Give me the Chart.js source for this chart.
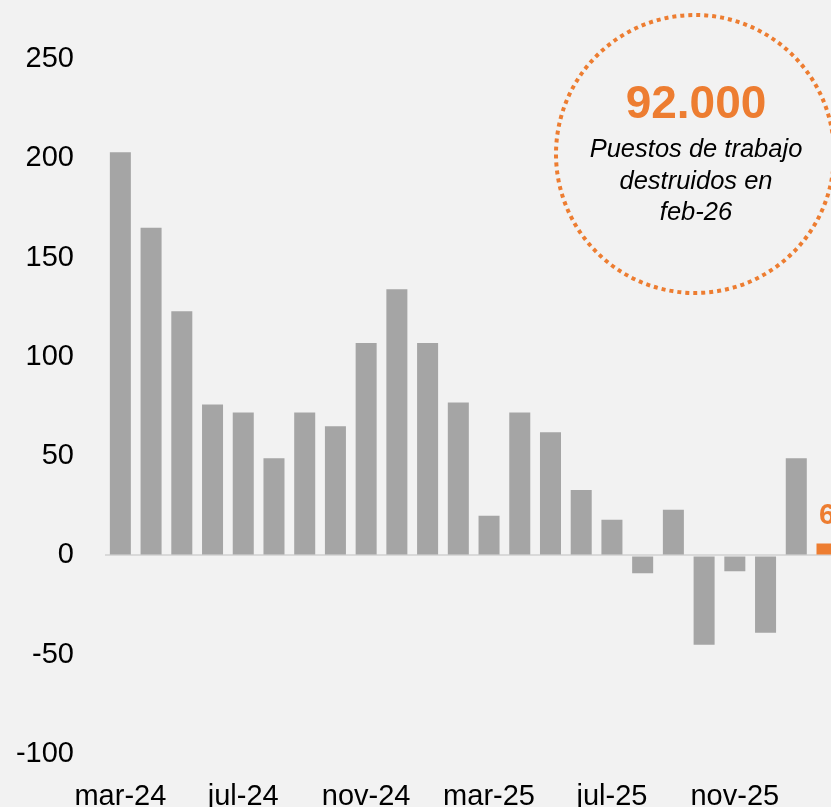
<!DOCTYPE html>
<html>
<head>
<meta charset="utf-8">
<script src="https://cdn.jsdelivr.net/npm/chart.js@4.4.1/dist/chart.umd.min.js"></script>
<style>
  html, body { margin: 0; padding: 0; background: #f2f2f2; overflow: hidden; width: 831px; height: 807px; }
  #wrap { position: absolute; left: 0; top: 0; width: 853px; height: 807px; }
  canvas { display: block; }
</style>
</head>
<body>
<div id="wrap"><canvas id="c"></canvas></div>
<script>
// ---- data ----
const categories = ["mar-24","abr-24","may-24","jun-24","jul-24","ago-24","sep-24","oct-24","nov-24","dic-24",
  "ene-25","feb-25","mar-25","abr-25","may-25","jun-25","jul-25","ago-25","sep-25","oct-25","nov-25","dic-25",
  "ene-26","feb-26"];
const values = [203, 165, 123, 76, 72, 49, 72, 65, 107, 134, 107, 77, 20, 72, 62, 33, 18, -9, 23, -45, -8, -39, 49, 6];
const shownTickLabels = ["mar-24","jul-24","nov-24","mar-25","jul-25","nov-25"];
const highlightCategory = "feb-26";
const highlightLabel = "6";
const calloutNumber = "92.000";
const calloutLines = ["Puestos de trabajo", "destruidos en", "feb-26"];

const GREY = '#a5a5a5';
const ORANGE = '#ED7D31';
const FONT = "'Liberation Sans', Arial, sans-serif";

const overlay = {
  id: 'overlay',
  afterDatasetsDraw(chart) {
    const ctx = chart.ctx;
    const idx = categories.indexOf(highlightCategory);
    const bar = chart.getDatasetMeta(0).data[idx];
    ctx.save();
    ctx.fillStyle = ORANGE;
    ctx.font = "bold 29px " + FONT;
    ctx.textAlign = 'center';
    ctx.textBaseline = 'alphabetic';
    ctx.fillText(highlightLabel, bar.x, bar.y - 20);
    ctx.restore();
  },
  afterDraw(chart) {
    const ctx = chart.ctx;
    ctx.save();
    ctx.beginPath();
    ctx.setLineDash([4, 4]);
    ctx.lineWidth = 4;
    ctx.strokeStyle = ORANGE;
    ctx.arc(695, 154, 139, 0, Math.PI * 2);
    ctx.stroke();
    ctx.setLineDash([]);
    ctx.textAlign = 'center';
    ctx.textBaseline = 'alphabetic';
    ctx.fillStyle = ORANGE;
    ctx.font = "bold 46px " + FONT;
    ctx.fillText(calloutNumber, 696, 118);
    ctx.fillStyle = '#000';
    ctx.font = "italic 25.5px " + FONT;
    const base = [157, 189, 220];
    calloutLines.forEach((t, i) => ctx.fillText(t, 696, base[i]));
    ctx.restore();
  }
};

new Chart(document.getElementById('c'), {
  type: 'bar',
  data: {
    labels: categories,
    datasets: [{
      data: values,
      backgroundColor: categories.map(c => c === highlightCategory ? ORANGE : GREY),
      borderWidth: 0,
      categoryPercentage: 1,
      barPercentage: 0.684
    }]
  },
  options: {
    responsive: true,
    maintainAspectRatio: false,
    animation: false,
    devicePixelRatio: 1,
    layout: { padding: { top: 59, left: 0, right: 0, bottom: 0 } },
    plugins: { legend: { display: false }, tooltip: { enabled: false } },
    scales: {
      x: {
        grid: { display: false, drawTicks: false },
        border: { display: false },
        ticks: {
          autoSkip: false,
          maxRotation: 0,
          minRotation: 0,
          padding: 26,
          color: '#000',
          font: { family: FONT, size: 29 },
          callback: function(v, i) {
            const l = categories[i];
            return shownTickLabels.includes(l) ? l : '';
          }
        },
        afterFit(s) { s.height = 53; }
      },
      y: {
        min: -100,
        max: 250,
        grid: {
          drawTicks: false,
          lineWidth: 2,
          color: ctx => (ctx.tick && ctx.tick.value === 0) ? '#d9d9d9' : 'rgba(0,0,0,0)'
        },
        border: { display: false },
        ticks: {
          stepSize: 50,
          padding: 31,
          color: '#000',
          font: { family: FONT, size: 29 }
        },
        afterFit(s) { s.width = 105; }
      }
    }
  },
  plugins: [overlay]
});
</script>
</body>
</html>
